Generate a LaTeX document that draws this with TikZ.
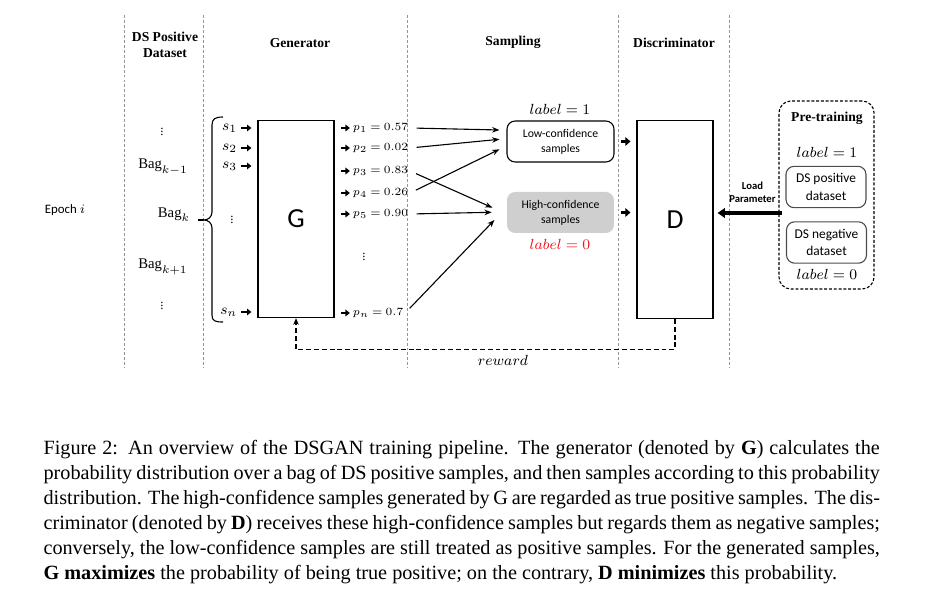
\documentclass[tikz,border=0pt]{standalone}
\usepackage{fontspec}
\setmainfont{Liberation Serif}
\newfontfamily\calibri{Carlito}
\usetikzlibrary{arrows.meta,calc}

\definecolor{hcgray}{RGB}{208,207,207}
\definecolor{colgray}{RGB}{150,150,150}
\definecolor{labred}{RGB}{240,20,30}

\newcommand{\probval}[2]{$\thickmuskip=4mu p_{#1} = #2$}
\newcommand{\tinyvdots}{\vbox{\baselineskip=1.8pt\lineskiplimit=-5pt\hbox{.}\hbox{.}\hbox{.}}}

\tikzset{every picture/.style={line width=0.6pt}}
\tikzset{
  colline/.style={draw=colgray,line width=0.45pt,dash pattern={on 1.6pt off 1.1pt}},
  header/.style={font=\fontsize{7.4}{8.7}\selectfont\bfseries,align=center,inner sep=0.75pt},
  netbox/.style={draw,minimum width=41.3pt,minimum height=107.4pt,inner sep=0pt,font=\fontsize{15}{15}\calibri},
  sampbox/.style={rounded corners=4.4pt,minimum width=58.2pt,minimum height=22.3pt,inner sep=0pt,align=center,font=\fontsize{6.4}{8.2}\calibri},
  dsbox/.style={draw=black!70,rounded corners=4.4pt,minimum width=43.5pt,minimum height=22.5pt,inner sep=0pt,align=center,font=\fontsize{7.3}{9.6}\calibri},
  mathlab/.style={font=\fontsize{7.9}{9}\selectfont,inner sep=0.75pt},
  slab/.style={font=\fontsize{8}{9}\selectfont,inner sep=0.75pt,anchor=east},
  plab/.style={font=\fontsize{6}{7}\selectfont,inner sep=0.75pt,anchor=west},
  baglab/.style={font=\fontsize{8}{9}\selectfont,inner sep=0.75pt},
  vdot/.style={font=\fontsize{7}{7}\selectfont,inner sep=0.75pt},
  smallarr/.style={line width=1.1pt,-{Triangle[length=2.4pt,width=3.6pt]}},
  fwdarr/.style={line width=2pt,-{Triangle[length=2.8pt,width=4.8pt]}},
  loadarr/.style={line width=2.2pt,-{Triangle[length=4pt,width=5.2pt]}},
  samparr/.style={-{Stealth[length=4pt,width=3pt]},shorten <=3.5pt},
  rewardarr/.style={dash pattern={on 2.7pt off 1.6pt},-{Stealth[length=3.5pt,width=3pt]}},
}

\begin{document}
\begin{tikzpicture}[x=0.544pt,y=0.544pt,yscale=-1,xscale=1]
	\useasboundingbox (0,0) rectangle (952,590);
	
	%Straight Lines: column separators
	\foreach \cx in {124,203,407,618,729}
		\draw [colline] (\cx,15) -- (\cx,368);
	
	% Text Node
	\draw (165,45) node (hds) [header] {DS Positive\\Dataset};
	% Text Node
	\draw (300,43) node (hgen) [header] {Generator};
	% Text Node
	\draw (513,42) node (hsamp) [header] {Sampling};
	% Text Node
	\draw (674,43) node (hdis) [header] {Discriminator};
	% Text Node
	\draw (65,210) node (epoch) [font=\fontsize{7}{8}\calibri] {Epoch $i$};
	
	% Text Node
	\draw (162,132) node (bdots1) [vdot] {\tinyvdots};
	% Text Node
	\draw (163,167) node (bagkm) [baglab] {$\mathrm{Bag}_{k-1}$};
	% Text Node
	\draw (174,215) node (bagk) [baglab] {$\mathrm{Bag}_{k}$};
	% Text Node
	\draw (163,267) node (bagkp) [baglab] {$\mathrm{Bag}_{k+1}$};
	% Text Node
	\draw (162,306) node (bdots2) [vdot] {\tinyvdots};
	
	%Shape: Brace
	\draw (223,117) .. controls (215,117) and (212,119) .. (212,125) -- (212,212) .. controls (212,217) and (208,220) .. (204,220) .. controls (208,220) and (212,223) .. (212,228) -- (212,315) .. controls (212,321) and (215,322) .. (223,322) ;
	\coordinate (btip) at (204,220);
	\draw [shorten <=3.5pt] (bagk.east |- btip) -- (btip);
	
	%Shape: Rectangle
	\draw (296,219) node (G) [netbox] {G};
	
	% Text Node
	\draw (239,128) node (s1) [slab] {$s_1$};
	% Text Node
	\draw (239,148) node (s2) [slab] {$s_2$};
	% Text Node
	\draw (239,166) node (s3) [slab] {$s_3$};
	% Text Node
	\draw (232,220) node (sdots) [vdot] {\tinyvdots};
	% Text Node
	\draw (239,312) node (sn) [slab] {$s_n$};
	\foreach \s in {s1,s2,s3,sn}
		\draw [smallarr,shorten <=1.2pt,shorten >=3.3pt] (\s.east) -- (G.west |- \s.east);
	
	% Text Node
	\draw (351,128) node (p1) [plab] {\probval{1}{0.57}};
	% Text Node
	\draw (351,148) node (p2) [plab] {\probval{2}{0.02}};
	% Text Node
	\draw (351,171) node (p3) [plab] {\probval{3}{0.83}};
	% Text Node
	\draw (351,193) node (p4) [plab] {\probval{4}{0.26}};
	% Text Node
	\draw (351,214) node (p5) [plab] {\probval{5}{0.90}};
	% Text Node
	\draw (364,257) node (pdots) [vdot] {\tinyvdots};
	% Text Node
	\draw (351,313) node (pn) [plab] {\probval{n}{0.7}};
	\foreach \p in {p1,p2,p3,p4,p5,pn}
		\draw [smallarr,shorten <=3.8pt,shorten >=0.6pt] (G.east |- \p.west) -- (\p.west);
	
	%Shape: Rounded Rect
	\draw (560.5,141.5) node (low) [sampbox,draw] {Low-confidence\\samples};
	%Shape: Rounded Rect
	\draw (560.5,212.5) node (high) [sampbox,fill=hcgray] {High-confidence\\samples};
	% Text Node
	\draw (560,109) node (lab1) [mathlab] {$label = 1$};
	% Text Node
	\draw (560,244) node (lab0) [mathlab,text=labred] {$label = 0$};
	
	%Straight Lines: sampling
	\draw [samparr] (p1.east) -- ($(low.west)+(-7,-11.5)$);
	\draw [samparr] (p2.east) -- ($(low.west)+(-7,-2.2)$);
	\draw [samparr] (p4.east) -- ($(low.west)+(-7,7.8)$);
	\draw [samparr] (p3.east) -- ($(high.west)+(-14,-4.8)$);
	\draw [samparr] (p5.east) -- ($(high.west)+(-14.7,-0.2)$);
	\draw [samparr] (pn.east) -- ($(high.west)+(-12,7.5)$);
	
	%Shape: Rectangle
	\draw (675,219.5) node (D) [netbox] {D};
	\draw [fwdarr,shorten <=3.3pt,shorten >=3.3pt] (low.east) -- (D.west |- low.east);
	\draw [fwdarr,shorten <=3.3pt,shorten >=3.3pt] (high.east) -- (D.west |- high.east);
	
	%Straight Lines: reward
	\draw [rewardarr] (D.south) -- ++(0,31) -| (G.south);
	% Text Node
	\draw (503,360) node (rew) [mathlab] {$reward$};
	
	%Shape: Rounded Rect, dashed
	\draw (826.5,195) node (pre) [draw,dash pattern={on 1.6pt off 1pt},rounded corners=6.5pt,minimum width=51.7pt,minimum height=102.3pt] {};
	% Text Node
	\draw (827,118) node (hpre) [header] {Pre-training};
	% Text Node
	\draw (827,152) node (plab1) [mathlab] {$label = 1$};
	%Shape: Rounded Rect
	\draw (826,187) node (dspos) [dsbox] {DS positive\\dataset};
	%Shape: Rounded Rect
	\draw (826.5,242.5) node (dsneg) [dsbox] {DS negative\\dataset};
	% Text Node
	\draw (827,274) node (plab0) [mathlab] {$label = 0$};
	
	%Straight Lines: load parameter
	\coordinate (lp) at ($(pre.west)+(4,18)$);
	\draw [loadarr,shorten >=2.2pt] (lp) -- (D.east |- lp);
	% Text Node
	\draw (752.5,192.5) node (load) [font=\fontsize{5.8}{7}\calibri\bfseries,align=center,inner sep=0.75pt] {Load\\Parameter};
	
	% Text Node: caption
	\draw (43,440) node (cap) [anchor=north west,inner sep=0pt,text width=455pt,align=justify,font=\fontsize{11}{13.6}\selectfont] {\hyphenpenalty=10000\exhyphenpenalty=10000 Figure 2:\enspace An overview of the DSGAN training pipeline. The generator (denoted by \textbf{G}) calculates the\linebreak probability distribution over a bag of DS positive samples, and then samples according to this probability\linebreak distribution. The high-confidence samples generated by G are regarded as true positive samples. The dis-\linebreak criminator (denoted by \textbf{D}) receives these high-confidence samples but regards them as negative samples;\linebreak conversely, the low-confidence samples are still treated as positive samples. For the generated samples,\linebreak \textbf{G maximizes} the probability of being true positive; on the contrary, \textbf{D minimizes} this probability.};
	
\end{tikzpicture}
\end{document}
